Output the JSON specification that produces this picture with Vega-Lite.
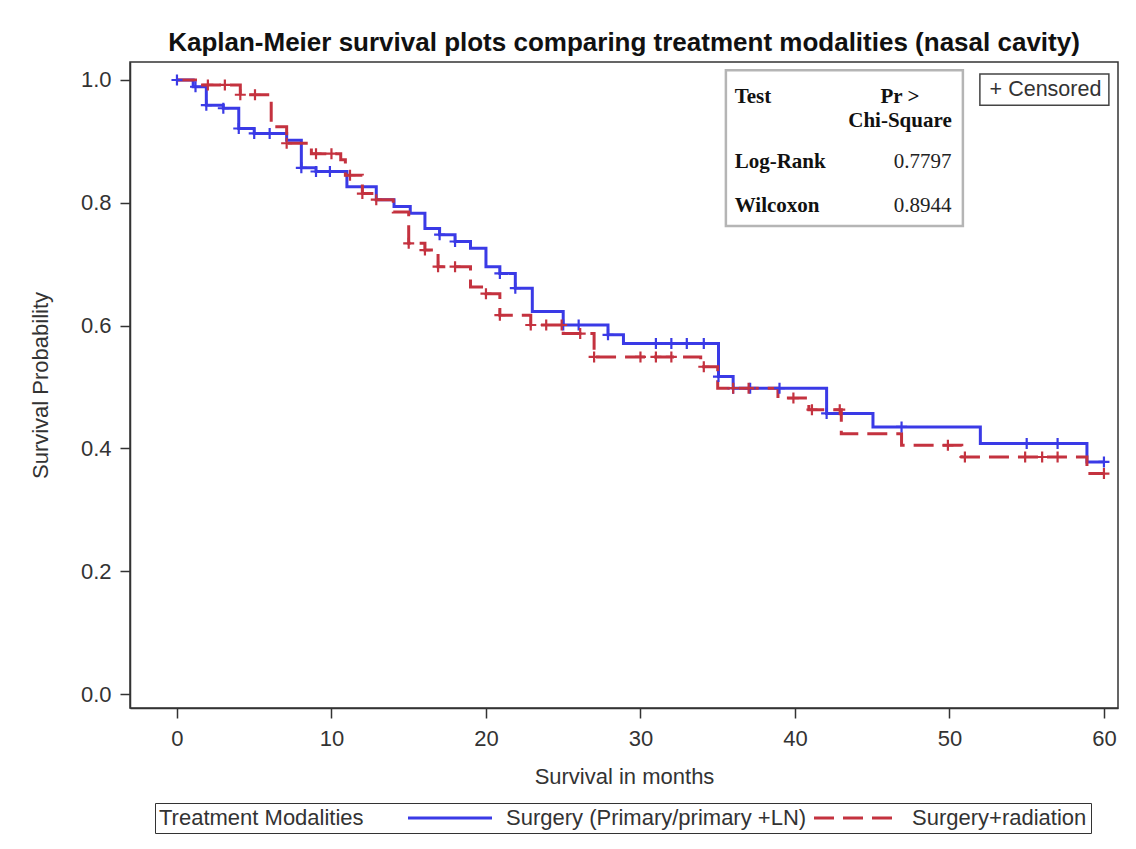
{
  "$schema": "https://vega.github.io/schema/vega-lite/v6.json",
  "autosize": "none",
  "width": 988,
  "height": 646,
  "padding": {"left": 130, "top": 62, "right": 18, "bottom": 141},
  "background": "white",
  "title": {"text": "Kaplan-Meier survival plots comparing treatment modalities (nasal cavity)", "fontSize": 26, "fontWeight": "bold", "font": "Liberation Sans", "color": "#111", "anchor": "middle", "offset": 6},
  "config": {
    "view": {"stroke": "#333", "strokeWidth": 1.5},
    "font": "Liberation Sans",
    "axis": {"grid": false, "labelFontSize": 22, "titleFontSize": 22, "titleFontWeight": "normal", "labelColor": "#333", "titleColor": "#333", "domainColor": "#333", "tickColor": "#333", "tickSize": 10, "domainWidth": 1.5, "tickWidth": 1.5, "labelFont": "Liberation Sans", "titleFont": "Liberation Sans"},
    "legend": {"labelFont": "Liberation Sans", "titleFont": "Liberation Sans"}
  },
  "datasets": {
    "km": [
      {"group": "Surgery (Primary/primary +LN)", "month": 0, "surv": 1.0, "censored": true},
      {"group": "Surgery (Primary/primary +LN)", "month": 1.05, "surv": 0.989, "censored": false},
      {"group": "Surgery (Primary/primary +LN)", "month": 1.2, "surv": 0.989, "censored": true},
      {"group": "Surgery (Primary/primary +LN)", "month": 1.9, "surv": 0.959, "censored": true},
      {"group": "Surgery (Primary/primary +LN)", "month": 3.0, "surv": 0.954, "censored": true},
      {"group": "Surgery (Primary/primary +LN)", "month": 4.0, "surv": 0.921, "censored": true},
      {"group": "Surgery (Primary/primary +LN)", "month": 5.0, "surv": 0.913, "censored": true},
      {"group": "Surgery (Primary/primary +LN)", "month": 6.0, "surv": 0.913, "censored": true},
      {"group": "Surgery (Primary/primary +LN)", "month": 7.1, "surv": 0.902, "censored": false},
      {"group": "Surgery (Primary/primary +LN)", "month": 8.05, "surv": 0.857, "censored": true},
      {"group": "Surgery (Primary/primary +LN)", "month": 9.0, "surv": 0.851, "censored": true},
      {"group": "Surgery (Primary/primary +LN)", "month": 9.9, "surv": 0.851, "censored": true},
      {"group": "Surgery (Primary/primary +LN)", "month": 11.0, "surv": 0.826, "censored": false},
      {"group": "Surgery (Primary/primary +LN)", "month": 12.9, "surv": 0.805, "censored": false},
      {"group": "Surgery (Primary/primary +LN)", "month": 14.05, "surv": 0.794, "censored": false},
      {"group": "Surgery (Primary/primary +LN)", "month": 15.1, "surv": 0.783, "censored": false},
      {"group": "Surgery (Primary/primary +LN)", "month": 16.05, "surv": 0.758, "censored": false},
      {"group": "Surgery (Primary/primary +LN)", "month": 17.0, "surv": 0.748, "censored": true},
      {"group": "Surgery (Primary/primary +LN)", "month": 18.0, "surv": 0.737, "censored": true},
      {"group": "Surgery (Primary/primary +LN)", "month": 19.0, "surv": 0.726, "censored": false},
      {"group": "Surgery (Primary/primary +LN)", "month": 20.0, "surv": 0.696, "censored": false},
      {"group": "Surgery (Primary/primary +LN)", "month": 20.9, "surv": 0.685, "censored": true},
      {"group": "Surgery (Primary/primary +LN)", "month": 21.9, "surv": 0.661, "censored": true},
      {"group": "Surgery (Primary/primary +LN)", "month": 23.0, "surv": 0.623, "censored": false},
      {"group": "Surgery (Primary/primary +LN)", "month": 25.0, "surv": 0.601, "censored": true},
      {"group": "Surgery (Primary/primary +LN)", "month": 26.0, "surv": 0.601, "censored": true},
      {"group": "Surgery (Primary/primary +LN)", "month": 27.9, "surv": 0.585, "censored": true},
      {"group": "Surgery (Primary/primary +LN)", "month": 28.9, "surv": 0.571, "censored": false},
      {"group": "Surgery (Primary/primary +LN)", "month": 31.0, "surv": 0.571, "censored": true},
      {"group": "Surgery (Primary/primary +LN)", "month": 32.0, "surv": 0.571, "censored": true},
      {"group": "Surgery (Primary/primary +LN)", "month": 33.0, "surv": 0.571, "censored": true},
      {"group": "Surgery (Primary/primary +LN)", "month": 34.1, "surv": 0.571, "censored": true},
      {"group": "Surgery (Primary/primary +LN)", "month": 35.05, "surv": 0.517, "censored": true},
      {"group": "Surgery (Primary/primary +LN)", "month": 36.0, "surv": 0.498, "censored": true},
      {"group": "Surgery (Primary/primary +LN)", "month": 37.1, "surv": 0.498, "censored": true},
      {"group": "Surgery (Primary/primary +LN)", "month": 39.0, "surv": 0.498, "censored": true},
      {"group": "Surgery (Primary/primary +LN)", "month": 42.05, "surv": 0.457, "censored": true},
      {"group": "Surgery (Primary/primary +LN)", "month": 45.05, "surv": 0.435, "censored": false},
      {"group": "Surgery (Primary/primary +LN)", "month": 46.9, "surv": 0.435, "censored": true},
      {"group": "Surgery (Primary/primary +LN)", "month": 52.0, "surv": 0.408, "censored": false},
      {"group": "Surgery (Primary/primary +LN)", "month": 55.0, "surv": 0.408, "censored": true},
      {"group": "Surgery (Primary/primary +LN)", "month": 57.0, "surv": 0.408, "censored": true},
      {"group": "Surgery (Primary/primary +LN)", "month": 58.9, "surv": 0.378, "censored": false},
      {"group": "Surgery (Primary/primary +LN)", "month": 60.0, "surv": 0.378, "censored": true},
      {"group": "Surgery+radiation", "month": 0, "surv": 1.0, "censored": false},
      {"group": "Surgery+radiation", "month": 1.4, "surv": 0.992, "censored": false},
      {"group": "Surgery+radiation", "month": 2.0, "surv": 0.992, "censored": true},
      {"group": "Surgery+radiation", "month": 3.1, "surv": 0.992, "censored": true},
      {"group": "Surgery+radiation", "month": 4.1, "surv": 0.976, "censored": true},
      {"group": "Surgery+radiation", "month": 5.05, "surv": 0.976, "censored": true},
      {"group": "Surgery+radiation", "month": 6.1, "surv": 0.924, "censored": false},
      {"group": "Surgery+radiation", "month": 7.1, "surv": 0.897, "censored": true},
      {"group": "Surgery+radiation", "month": 8.7, "surv": 0.88, "censored": false},
      {"group": "Surgery+radiation", "month": 9.0, "surv": 0.88, "censored": true},
      {"group": "Surgery+radiation", "month": 10.0, "surv": 0.88, "censored": true},
      {"group": "Surgery+radiation", "month": 10.6, "surv": 0.87, "censored": false},
      {"group": "Surgery+radiation", "month": 10.9, "surv": 0.845, "censored": false},
      {"group": "Surgery+radiation", "month": 11.2, "surv": 0.845, "censored": true},
      {"group": "Surgery+radiation", "month": 12.0, "surv": 0.815, "censored": true},
      {"group": "Surgery+radiation", "month": 12.9, "surv": 0.805, "censored": true},
      {"group": "Surgery+radiation", "month": 14.0, "surv": 0.785, "censored": false},
      {"group": "Surgery+radiation", "month": 15.0, "surv": 0.734, "censored": true},
      {"group": "Surgery+radiation", "month": 16.05, "surv": 0.723, "censored": true},
      {"group": "Surgery+radiation", "month": 16.9, "surv": 0.696, "censored": true},
      {"group": "Surgery+radiation", "month": 18.0, "surv": 0.696, "censored": true},
      {"group": "Surgery+radiation", "month": 19.0, "surv": 0.663, "censored": false},
      {"group": "Surgery+radiation", "month": 20.0, "surv": 0.652, "censored": true},
      {"group": "Surgery+radiation", "month": 20.9, "surv": 0.617, "censored": true},
      {"group": "Surgery+radiation", "month": 22.9, "surv": 0.601, "censored": true},
      {"group": "Surgery+radiation", "month": 23.9, "surv": 0.601, "censored": true},
      {"group": "Surgery+radiation", "month": 24.9, "surv": 0.601, "censored": true},
      {"group": "Surgery+radiation", "month": 25.0, "surv": 0.587, "censored": false},
      {"group": "Surgery+radiation", "month": 26.1, "surv": 0.587, "censored": true},
      {"group": "Surgery+radiation", "month": 27.0, "surv": 0.549, "censored": true},
      {"group": "Surgery+radiation", "month": 30.0, "surv": 0.549, "censored": true},
      {"group": "Surgery+radiation", "month": 31.0, "surv": 0.549, "censored": true},
      {"group": "Surgery+radiation", "month": 32.0, "surv": 0.549, "censored": true},
      {"group": "Surgery+radiation", "month": 33.9, "surv": 0.533, "censored": false},
      {"group": "Surgery+radiation", "month": 34.1, "surv": 0.533, "censored": true},
      {"group": "Surgery+radiation", "month": 35.0, "surv": 0.498, "censored": false},
      {"group": "Surgery+radiation", "month": 36.0, "surv": 0.498, "censored": true},
      {"group": "Surgery+radiation", "month": 37.0, "surv": 0.498, "censored": true},
      {"group": "Surgery+radiation", "month": 38.9, "surv": 0.482, "censored": false},
      {"group": "Surgery+radiation", "month": 39.9, "surv": 0.482, "censored": true},
      {"group": "Surgery+radiation", "month": 40.9, "surv": 0.463, "censored": false},
      {"group": "Surgery+radiation", "month": 41.1, "surv": 0.463, "censored": true},
      {"group": "Surgery+radiation", "month": 42.9, "surv": 0.463, "censored": true},
      {"group": "Surgery+radiation", "month": 43.0, "surv": 0.424, "censored": false},
      {"group": "Surgery+radiation", "month": 46.9, "surv": 0.405, "censored": false},
      {"group": "Surgery+radiation", "month": 49.9, "surv": 0.405, "censored": true},
      {"group": "Surgery+radiation", "month": 50.8, "surv": 0.386, "censored": false},
      {"group": "Surgery+radiation", "month": 51.0, "surv": 0.386, "censored": true},
      {"group": "Surgery+radiation", "month": 54.9, "surv": 0.386, "censored": true},
      {"group": "Surgery+radiation", "month": 56.0, "surv": 0.386, "censored": true},
      {"group": "Surgery+radiation", "month": 57.0, "surv": 0.386, "censored": true},
      {"group": "Surgery+radiation", "month": 58.9, "surv": 0.359, "censored": false},
      {"group": "Surgery+radiation", "month": 60.0, "surv": 0.359, "censored": true}
    ]
  },
  "layer": [
    {
      "data": {"values": [{"box": "tests"}]},
      "mark": {"type": "rect", "fill": "white", "stroke": "#b5b5b5", "strokeWidth": 2.5},
      "encoding": {
        "x": {"datum": 35.53, "type": "quantitative", "scale": {"domain": [-3.04, 60.91], "nice": false, "zero": false}},
        "x2": {"datum": 50.87},
        "y": {"datum": 1.016, "type": "quantitative", "scale": {"domain": [-0.0228, 1.0293], "nice": false, "zero": false}},
        "y2": {"datum": 0.762}
      }
    },
    {
      "data": {"values": [{"box": "censored"}]},
      "mark": {"type": "rect", "fill": "white", "stroke": "#444", "strokeWidth": 1.5},
      "encoding": {
        "x": {"datum": 51.97, "type": "quantitative"},
        "x2": {"datum": 60.32},
        "y": {"datum": 1.0098, "type": "quantitative"},
        "y2": {"datum": 0.959}
      }
    },
    {
      "data": {"name": "km"},
      "mark": {"type": "line", "interpolate": "step-after", "strokeWidth": 3},
      "encoding": {
        "x": {"field": "month", "type": "quantitative", "title": "Survival in months",
          "axis": {"values": [0, 10, 20, 30, 40, 50, 60], "labelPadding": 10, "titlePadding": 17}},
        "y": {"field": "surv", "type": "quantitative", "title": "Survival Probability",
          "axis": {"values": [0, 0.2, 0.4, 0.6, 0.8, 1.0], "format": ".1f", "labelPadding": 9, "titlePadding": 28}},
        "color": {"field": "group", "type": "nominal", "title": "Treatment Modalities",
          "scale": {"domain": ["Surgery (Primary/primary +LN)", "Surgery+radiation"], "range": ["#3a3ae6", "#c4323f"]},
          "legend": {"orient": "none", "legendX": 25, "legendY": 741, "direction": "horizontal", "titleOrient": "left", "strokeColor": "#333", "padding": 4, "symbolType": "M-6,0H6", "symbolSize": 196, "symbolStrokeWidth": 3, "symbolOffset": 35, "labelOffset": 45, "labelFontSize": 22, "titleFontSize": 22, "titleFontWeight": "normal", "labelColor": "#333", "titleColor": "#333", "labelLimit": 0, "titleLimit": 0, "columnPadding": 1, "titlePadding": 40}},
        "strokeDash": {"field": "group", "type": "nominal", "title": "Treatment Modalities",
          "scale": {"domain": ["Surgery (Primary/primary +LN)", "Surgery+radiation"], "range": [[1, 0], [20, 9]]}}
      }
    },
    {
      "data": {"name": "km"},
      "transform": [{"filter": "datum.censored"}],
      "mark": {"type": "point", "shape": "M-1,0H1M0,-1V1", "filled": false, "size": 121, "strokeWidth": 2.2, "opacity": 1},
      "encoding": {
        "x": {"field": "month", "type": "quantitative"},
        "y": {"field": "surv", "type": "quantitative"},
        "stroke": {"field": "group", "type": "nominal", "legend": null,
          "scale": {"domain": ["Surgery (Primary/primary +LN)", "Surgery+radiation"], "range": ["#3a3ae6", "#c4323f"]}}
      }
    },
    {
      "data": {"values": [{"label": "Test"}]},
      "mark": {"type": "text", "font": "Liberation Serif", "fontWeight": "bold", "fontSize": 21, "align": "left", "baseline": "middle", "color": "#111"},
      "encoding": {"x": {"datum": 36.1, "type": "quantitative"}, "y": {"datum": 0.972, "type": "quantitative"}, "text": {"field": "label"}}
    },
    {
      "data": {"values": [{"label": "Pr >"}]},
      "mark": {"type": "text", "font": "Liberation Serif", "fontWeight": "bold", "fontSize": 21, "align": "center", "baseline": "middle", "color": "#111"},
      "encoding": {"x": {"datum": 46.8, "type": "quantitative"}, "y": {"datum": 0.972, "type": "quantitative"}, "text": {"field": "label"}}
    },
    {
      "data": {"values": [{"label": "Chi-Square"}]},
      "mark": {"type": "text", "font": "Liberation Serif", "fontWeight": "bold", "fontSize": 21, "align": "center", "baseline": "middle", "color": "#111"},
      "encoding": {"x": {"datum": 46.8, "type": "quantitative"}, "y": {"datum": 0.933, "type": "quantitative"}, "text": {"field": "label"}}
    },
    {
      "data": {"values": [{"label": "Log-Rank"}]},
      "mark": {"type": "text", "font": "Liberation Serif", "fontWeight": "bold", "fontSize": 21, "align": "left", "baseline": "middle", "color": "#111"},
      "encoding": {"x": {"datum": 36.1, "type": "quantitative"}, "y": {"datum": 0.866, "type": "quantitative"}, "text": {"field": "label"}}
    },
    {
      "data": {"values": [{"label": "0.7797"}]},
      "mark": {"type": "text", "font": "Liberation Serif", "fontSize": 21, "align": "right", "baseline": "middle", "color": "#222"},
      "encoding": {"x": {"datum": 50.14, "type": "quantitative"}, "y": {"datum": 0.866, "type": "quantitative"}, "text": {"field": "label"}}
    },
    {
      "data": {"values": [{"label": "Wilcoxon"}]},
      "mark": {"type": "text", "font": "Liberation Serif", "fontWeight": "bold", "fontSize": 21, "align": "left", "baseline": "middle", "color": "#111"},
      "encoding": {"x": {"datum": 36.1, "type": "quantitative"}, "y": {"datum": 0.795, "type": "quantitative"}, "text": {"field": "label"}}
    },
    {
      "data": {"values": [{"label": "0.8944"}]},
      "mark": {"type": "text", "font": "Liberation Serif", "fontSize": 21, "align": "right", "baseline": "middle", "color": "#222"},
      "encoding": {"x": {"datum": 50.14, "type": "quantitative"}, "y": {"datum": 0.795, "type": "quantitative"}, "text": {"field": "label"}}
    },
    {
      "data": {"values": [{"label": "+ Censored"}]},
      "mark": {"type": "text", "font": "Liberation Sans", "fontSize": 21.5, "align": "left", "baseline": "middle", "color": "#333"},
      "encoding": {"x": {"datum": 52.6, "type": "quantitative"}, "y": {"datum": 0.984, "type": "quantitative"}, "text": {"field": "label"}}
    }
  ]
}
